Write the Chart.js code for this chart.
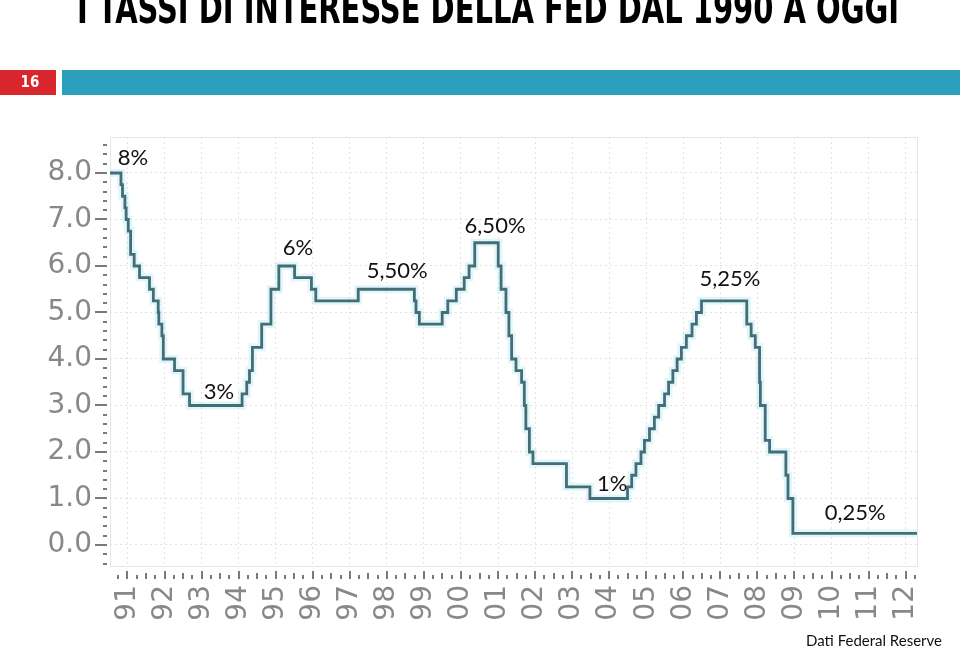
<!DOCTYPE html>
<html lang="it">
<head>
<meta charset="utf-8">
<title>I tassi di interesse della FED dal 1990 a oggi</title>
<script src="https://cdn.jsdelivr.net/npm/chart.js@4.4.1/dist/chart.umd.min.js"></script>
<style>
  html, body { margin: 0; padding: 0; background: #fff; }
  canvas { display: block; }
</style>
</head>
<body>
<canvas id="graficoTassi" width="960" height="648"></canvas>
<script>
// Date delle variazioni del tasso obiettivo
const dateVariazioni = [
    '1990-07-13', '1990-10-29', '1990-11-13', '1990-12-07', '1990-12-19',
    '1991-01-09', '1991-02-01', '1991-03-08', '1991-04-30', '1991-08-06',
    '1991-09-13', '1991-10-31', '1991-11-06', '1991-12-06', '1991-12-20',
    '1992-04-09', '1992-07-02', '1992-09-04', '1994-02-04', '1994-03-22',
    '1994-04-18', '1994-05-17', '1994-08-16', '1994-11-15', '1995-02-01',
    '1995-07-06', '1995-12-19', '1996-01-31', '1997-03-25', '1998-09-29',
    '1998-10-15', '1998-11-17', '1999-06-30', '1999-08-24', '1999-11-16',
    '2000-02-02', '2000-03-21', '2000-05-16', '2001-01-03', '2001-01-31',
    '2001-03-20', '2001-04-18', '2001-05-15', '2001-06-27', '2001-08-21',
    '2001-09-17', '2001-10-02', '2001-11-06', '2001-12-11', '2002-11-06',
    '2003-06-25', '2004-06-30', '2004-08-10', '2004-09-21', '2004-11-10',
    '2004-12-14', '2005-02-02', '2005-03-22', '2005-05-03', '2005-06-30',
    '2005-08-09', '2005-09-20', '2005-11-01', '2005-12-13', '2006-01-31',
    '2006-03-28', '2006-05-10', '2006-06-29', '2007-09-18', '2007-10-31',
    '2007-12-11', '2008-01-22', '2008-01-30', '2008-03-18', '2008-04-30',
    '2008-10-08', '2008-10-29', '2008-12-16', '2012-04-22'
];

// Tasso (%) in vigore da ciascuna data
const tassi = [
    8.00, 7.75, 7.50, 7.25, 7.00,
    6.75, 6.25, 6.00, 5.75, 5.50,
    5.25, 5.00, 4.75, 4.50, 4.00,
    3.75, 3.25, 3.00, 3.25, 3.50,
    3.75, 4.25, 4.75, 5.50, 6.00,
    5.75, 5.50, 5.25, 5.50, 5.25,
    5.00, 4.75, 5.00, 5.25, 5.50,
    5.75, 6.00, 6.50, 6.00, 5.50,
    5.00, 4.50, 4.00, 3.75, 3.50,
    3.00, 2.50, 2.00, 1.75, 1.25,
    1.00, 1.25, 1.50, 1.75, 2.00,
    2.25, 2.50, 2.75, 3.00, 3.25,
    3.50, 3.75, 4.00, 4.25, 4.50,
    4.75, 5.00, 5.25, 4.75, 4.50,
    4.25, 3.50, 3.00, 2.25, 2.00,
    1.50, 1.00, 0.25, 0.25
];

// Tick degli assi
const anniTick = [1991, 1992, 1993, 1994, 1995, 1996, 1997, 1998, 1999, 2000, 2001,
                  2002, 2003, 2004, 2005, 2006, 2007, 2008, 2009, 2010, 2011, 2012];
const valoriTickY = [0, 1, 2, 3, 4, 5, 6, 7, 8];

// Etichette di testo sul grafico (anno, valore)
const etichetteTesto = ['8%', '3%', '6%', '5,50%', '6,50%', '1%', '5,25%', '0,25%'];
const etichetteAnno = [1991.15, 1993.47, 1995.60, 1998.28, 2000.92, 2004.08, 2007.26, 2010.64];
const etichetteValore = [8.32, 3.29, 6.39, 5.89, 6.86, 1.32, 5.72, 0.68];

/**
 * Converte 'AAAA-MM-GG' in anno decimale
 */
function annoDecimale(s) {
    const [a, m, g] = s.split('-').map(Number);
    const inizio = Date.UTC(a, 0, 1);
    const fine = Date.UTC(a + 1, 0, 1);
    return a + (Date.UTC(a, m - 1, g) - inizio) / (fine - inizio);
}

const punti = dateVariazioni.map((d, i) => ({ x: annoDecimale(d), y: tassi[i] }));
const xMin = punti[0].x;
const xMax = punti[punti.length - 1].x;

const fontAssi = '"DejaVu Sans", sans-serif';
const fontSlide = 'Lato, "Noto Sans", sans-serif';

/**
 * Disegna titolo, barra, tacche degli assi, etichette e fonte
 */
const pluginDiapositiva = {
    id: 'diapositiva',
    beforeDraw(chart) {
        const ctx = chart.ctx;
        ctx.save();
        ctx.fillStyle = '#fff';
        ctx.fillRect(0, 0, chart.width, chart.height);

        // titolo (tagliato in alto come nella diapositiva)
        ctx.fillStyle = '#000';
        ctx.font = 'bold 42px "DejaVu Sans Condensed", "DejaVu Sans", sans-serif';
        ctx.textAlign = 'center';
        ctx.textBaseline = 'alphabetic';
        ctx.fillText('I TASSI DI INTERESSE DELLA FED DAL 1990 A OGGI', 488, 23, 822);

        // numero pagina e barra
        ctx.fillStyle = '#d8262c';
        ctx.fillRect(0, 70, 56, 25);
        ctx.fillStyle = '#2c9fbd';
        ctx.fillRect(62, 70, 898, 25);
        ctx.fillStyle = '#fff';
        ctx.font = 'bold 15px "DejaVu Sans Condensed", "DejaVu Sans", sans-serif';
        ctx.textBaseline = 'middle';
        ctx.fillText('16', 30, 83);
        ctx.restore();
    },
    beforeDatasetsDraw(chart) {
        const { ctx, chartArea } = chart;
        ctx.save();
        ctx.strokeStyle = '#e6e6e6';
        ctx.lineWidth = 1;
        ctx.strokeRect(chartArea.left + 0.5, chartArea.top + 0.5,
                       chartArea.right - chartArea.left, chartArea.bottom - chartArea.top);
        ctx.restore();
    },
    afterDraw(chart) {
        const { ctx, scales } = chart;
        const x = scales.x;
        const y = scales.y;
        ctx.save();
        ctx.strokeStyle = '#7a7a7a';

        // tacche asse y
        ctx.lineWidth = 2;
        for (let v = -0.4; v <= 8.7; v += 0.2) {
            const py = Math.round(y.getPixelForValue(v));
            ctx.beginPath();
            ctx.moveTo(103, py);
            ctx.lineTo(107, py);
            ctx.stroke();
        }
        valoriTickY.forEach(v => {
            const py = Math.round(y.getPixelForValue(v));
            ctx.beginPath();
            ctx.moveTo(95, py);
            ctx.lineTo(103, py);
            ctx.stroke();
        });

        // tacche asse x (trimestri e anni)
        for (let t = 1990.75; t <= xMax; t += 0.25) {
            const px = Math.round(x.getPixelForValue(t));
            const anno = Math.abs(t - Math.round(t)) < 0.01;
            const semestre = Math.abs(t - Math.round(t)) > 0.49;
            ctx.beginPath();
            ctx.moveTo(px, anno ? 571 : (semestre ? 573 : 575));
            ctx.lineTo(px, 579);
            ctx.stroke();
        }

        // etichette sul grafico
        ctx.fillStyle = '#111';
        ctx.font = '22px ' + fontSlide;
        ctx.textAlign = 'center';
        ctx.textBaseline = 'middle';
        etichetteTesto.forEach((t, i) => {
            ctx.fillText(t, x.getPixelForValue(etichetteAnno[i]), y.getPixelForValue(etichetteValore[i]));
        });

        // fonte
        ctx.font = '15px ' + fontSlide;
        ctx.textAlign = 'right';
        ctx.textBaseline = 'alphabetic';
        ctx.fillText('Dati Federal Reserve', 942, 646, 136);
        ctx.restore();
    }
};

function crearGraficoTassi() {
    const ctx = document.getElementById('graficoTassi').getContext('2d');

    new Chart(ctx, {
        type: 'line',
        data: {
            datasets: [{
                label: 'Tasso FED',
                data: punti,
                stepped: true,
                borderColor: '#446d76',
                borderWidth: 2.8,
                pointRadius: 0,
                fill: false,
                order: 0
            }, {
                label: 'alone',
                data: punti,
                stepped: true,
                borderColor: 'rgba(175, 232, 244, 0.38)',
                borderWidth: 8,
                pointRadius: 0,
                fill: false,
                order: 1
            }]
        },
        options: {
            responsive: false,
            animation: false,
            devicePixelRatio: 1,
            layout: {
                padding: { top: 137, right: 43, left: 0, bottom: 0 }
            },
            plugins: {
                legend: { display: false },
                tooltip: { enabled: false }
            },
            scales: {
                x: {
                    type: 'linear',
                    min: xMin,
                    max: xMax,
                    afterBuildTicks: scale => {
                        scale.ticks = anniTick.map(v => ({ value: v }));
                    },
                    afterFit: scale => { scale.height = 82; },
                    grid: {
                        color: '#e3e3e3',
                        drawTicks: false
                    },
                    border: { display: false, dash: [2, 3] },
                    ticks: {
                        autoSkip: false,
                        minRotation: 90,
                        maxRotation: 90,
                        padding: 19,
                        color: '#888',
                        font: { family: fontAssi, size: 28 },
                        callback: value => String(value).slice(2)
                    }
                },
                y: {
                    min: -0.452,
                    max: 8.774,
                    afterBuildTicks: scale => {
                        scale.ticks = valoriTickY.map(v => ({ value: v }));
                    },
                    afterFit: scale => { scale.width = 110; },
                    grid: {
                        color: '#e3e3e3',
                        drawTicks: false
                    },
                    border: { display: false, dash: [2, 3] },
                    ticks: {
                        padding: 18,
                        color: '#888',
                        font: { family: fontAssi, size: 28 },
                        callback: value => value.toFixed(1)
                    }
                }
            }
        },
        plugins: [pluginDiapositiva]
    });
}

crearGraficoTassi();
</script>
</body>
</html>
